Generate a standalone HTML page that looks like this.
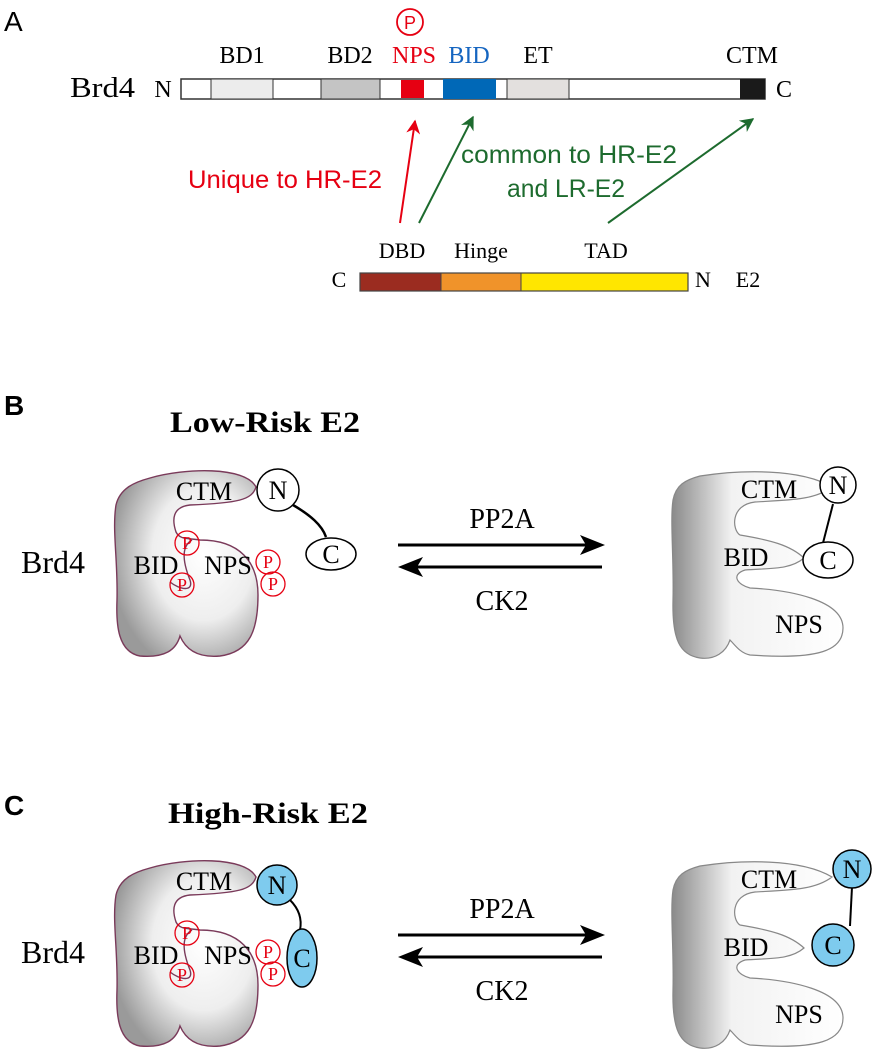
<!DOCTYPE html>
<html><head><meta charset="utf-8"><style>html,body{margin:0;padding:0;background:#fff}svg{display:block}</style></head>
<body>
<svg width="880" height="1050" viewBox="0 0 880 1050" xmlns="http://www.w3.org/2000/svg">
<defs>
<radialGradient id="gl" cx="0.62" cy="0.45" r="0.65">
<stop offset="0" stop-color="#ffffff"/><stop offset="0.55" stop-color="#eeeeee"/><stop offset="1" stop-color="#9a9a9a"/>
</radialGradient>
<linearGradient id="gr" x1="0" y1="0" x2="1" y2="0">
<stop offset="0" stop-color="#8a8a8a"/><stop offset="0.35" stop-color="#f2f2f2"/><stop offset="1" stop-color="#fff"/>
</linearGradient>
<marker id="ar" viewBox="0 0 10 10" refX="9" refY="5" markerWidth="7" markerHeight="7" orient="auto-start-reverse"><path d="M0,0 L10,5 L0,10 L3,5 Z" fill="#e60012"/></marker>
<marker id="ag" viewBox="0 0 10 10" refX="9" refY="5" markerWidth="7" markerHeight="7" orient="auto-start-reverse"><path d="M0,0 L10,5 L0,10 L3,5 Z" fill="#1d6b2e"/></marker>
<g id="lshape">
<path d="M150,478 C185,468 245,466 256,487 C252,500 238,503 190,505 C172,507 172,520 176,532 C180,540 188,538 200,540 C240,540 258,562 258,595 C258,630 250,652 220,656 C198,658 186,650 180,636 C176,650 165,658 140,656 C118,652 116,625 117,600 C118,560 112,530 116,505 C120,488 135,482 150,478 Z" fill="url(#gl)" stroke="#7a3a5a" stroke-width="1.4"/>
<path d="M192,540 C178,548 186,570 190,580 C194,592 180,590 170,582" fill="none" stroke="#7a3a5a" stroke-width="1.4"/>
<text x="204" y="500" font-family="Liberation Serif,serif" font-size="26" text-anchor="middle">CTM</text>
<text x="156" y="574" font-family="Liberation Serif,serif" font-size="26" text-anchor="middle">BID</text>
<text x="228" y="574" font-family="Liberation Serif,serif" font-size="26" text-anchor="middle">NPS</text>
<g fill="none" stroke="#e60012" stroke-width="1.3"><circle cx="187" cy="543" r="12"/><circle cx="182" cy="585" r="12"/></g>
<g font-family="Liberation Serif,serif" font-size="18" fill="#e60012" text-anchor="middle"><text x="187" y="549">P</text><text x="182" y="591">P</text></g>
</g>
<g id="rshape">
<path d="M700,476 C740,470 800,468 832,487 C815,500 790,500 755,502 C730,505 732,530 740,535 C770,540 790,545 804,558 C790,570 770,568 745,570 C730,575 738,585 750,588 C790,590 843,600 843,628 C843,650 820,660 750,655 C740,653 735,645 730,640 C726,652 715,660 700,658 C680,655 672,640 673,600 C674,560 670,520 673,500 C676,485 685,480 700,476 Z" fill="url(#gr)" stroke="#888" stroke-width="1.2"/>
<text x="769" y="498" font-family="Liberation Serif,serif" font-size="26" text-anchor="middle">CTM</text>
<text x="746" y="566" font-family="Liberation Serif,serif" font-size="26" text-anchor="middle">BID</text>
<text x="799" y="633" font-family="Liberation Serif,serif" font-size="26" text-anchor="middle">NPS</text>
</g>
<g id="arrows">
<line x1="398" y1="545" x2="590" y2="545" stroke="#000" stroke-width="3"/>
<path d="M605,545 L580,535 L586,545 L580,555 Z" fill="#000"/>
<line x1="413" y1="567" x2="602" y2="567" stroke="#000" stroke-width="3"/>
<path d="M398,567 L423,557 L417,567 L423,577 Z" fill="#000"/>
<text x="502" y="528" font-family="Liberation Serif,serif" font-size="28" text-anchor="middle">PP2A</text>
<text x="502" y="610" font-family="Liberation Serif,serif" font-size="28" text-anchor="middle">CK2</text>
<text x="53" y="573" font-family="Liberation Serif,serif" font-size="32" text-anchor="middle">Brd4</text>
</g>
</defs>

<!-- Panel A -->
<text x="4" y="31" font-family="Liberation Sans,sans-serif" font-size="28">A</text>
<circle cx="410" cy="22" r="13" fill="none" stroke="#e60012" stroke-width="1.8"/>
<text x="410" y="29" font-family="Liberation Sans,sans-serif" font-size="18" fill="#e60012" text-anchor="middle">P</text>
<g font-family="Liberation Serif,serif" font-size="24" text-anchor="middle">
<text x="242" y="63">BD1</text><text x="350" y="63">BD2</text>
<text x="414" y="63" fill="#e60012">NPS</text><text x="469" y="63" fill="#1565c0">BID</text>
<text x="538" y="63">ET</text><text x="752" y="63">CTM</text>
<text x="163" y="97">N</text><text x="784" y="97">C</text>
</g>
<text x="70" y="97" font-family="Liberation Serif,serif" font-size="29" textLength="65" lengthAdjust="spacingAndGlyphs">Brd4</text>
<rect x="181" y="79" width="584" height="20" fill="#fff" stroke="#333" stroke-width="1.5"/>
<rect x="211" y="79" width="62" height="20" fill="#ececec" stroke="#333" stroke-width="1"/>
<rect x="321" y="79" width="59" height="20" fill="#c4c4c4" stroke="#333" stroke-width="1"/>
<rect x="401" y="80" width="23" height="18" fill="#e60012"/>
<rect x="443" y="79" width="53" height="20" fill="#0068b7"/>
<rect x="507" y="79" width="62" height="20" fill="#e3e0de" stroke="#333" stroke-width="1"/>
<rect x="740" y="79" width="25" height="20" fill="#1a1a1a"/>
<line x1="400" y1="223" x2="415" y2="121" stroke="#e60012" stroke-width="2" marker-end="url(#ar)"/>
<line x1="419" y1="223" x2="473" y2="117" stroke="#1d6b2e" stroke-width="2" marker-end="url(#ag)"/>
<line x1="608" y1="223" x2="753" y2="119" stroke="#1d6b2e" stroke-width="2" marker-end="url(#ag)"/>
<text x="188" y="188" font-family="Liberation Sans,sans-serif" font-size="25" fill="#e60012" textLength="194" lengthAdjust="spacingAndGlyphs">Unique to HR-E2</text>
<text x="461" y="163" font-family="Liberation Sans,sans-serif" font-size="25" fill="#1d6b2e" textLength="216" lengthAdjust="spacingAndGlyphs">common to HR-E2</text>
<text x="507" y="197" font-family="Liberation Sans,sans-serif" font-size="25" fill="#1d6b2e" textLength="118" lengthAdjust="spacingAndGlyphs">and LR-E2</text>
<g font-family="Liberation Serif,serif" font-size="22" text-anchor="middle">
<text x="402" y="258">DBD</text><text x="481" y="258">Hinge</text><text x="606" y="258">TAD</text>
<text x="339" y="287">C</text><text x="703" y="287">N</text><text x="748" y="287">E2</text>
</g>
<rect x="360" y="273" width="81" height="18" fill="#9b2c20"/>
<rect x="441" y="273" width="80" height="18" fill="#f0932a"/>
<rect x="521" y="273" width="167" height="18" fill="#ffe600"/>
<rect x="360" y="273" width="328" height="18" fill="none" stroke="#444" stroke-width="1.2"/>
<line x1="441" y1="273" x2="441" y2="291" stroke="#444"/><line x1="521" y1="273" x2="521" y2="291" stroke="#444"/>

<!-- Panel B -->
<text x="4" y="415" font-family="Liberation Sans,sans-serif" font-size="28" font-weight="bold">B</text>
<text x="170" y="432" font-family="Liberation Serif,serif" font-size="30" font-weight="bold" textLength="190" lengthAdjust="spacingAndGlyphs">Low-Risk E2</text>
<use href="#lshape"/><use href="#rshape"/><use href="#arrows"/>
<path d="M293,505 C310,515 322,525 326,537" fill="none" stroke="#000" stroke-width="2.5"/>
<circle cx="278" cy="490" r="21" fill="#fff" stroke="#000" stroke-width="1.5"/>
<text x="278" y="499" font-family="Liberation Serif,serif" font-size="26" text-anchor="middle">N</text>
<ellipse cx="331" cy="554" rx="25" ry="16" fill="#fff" stroke="#000" stroke-width="1.5"/>
<text x="331" y="563" font-family="Liberation Serif,serif" font-size="26" text-anchor="middle">C</text>
<g fill="none" stroke="#e60012" stroke-width="1.3"><circle cx="268" cy="562" r="12"/><circle cx="273" cy="584" r="12"/></g>
<g font-family="Liberation Serif,serif" font-size="18" fill="#e60012" text-anchor="middle"><text x="268" y="568">P</text><text x="273" y="590">P</text></g>
<line x1="833" y1="504" x2="823" y2="543" stroke="#000" stroke-width="2"/>
<circle cx="838" cy="485" r="18" fill="#fff" stroke="#000" stroke-width="1.5"/>
<text x="838" y="494" font-family="Liberation Serif,serif" font-size="26" text-anchor="middle">N</text>
<ellipse cx="828" cy="560" rx="25" ry="18" fill="#fff" stroke="#000" stroke-width="1.5"/>
<text x="828" y="569" font-family="Liberation Serif,serif" font-size="26" text-anchor="middle">C</text>

<!-- Panel C -->
<text x="4" y="815" font-family="Liberation Sans,sans-serif" font-size="28" font-weight="bold">C</text>
<text x="168" y="823" font-family="Liberation Serif,serif" font-size="30" font-weight="bold" textLength="200" lengthAdjust="spacingAndGlyphs">High-Risk E2</text>
<g transform="translate(0,390)">
<use href="#lshape"/><use href="#rshape"/><use href="#arrows"/>
<path d="M290,510 C300,520 302,530 300,540" fill="none" stroke="#000" stroke-width="2"/>
<ellipse cx="277" cy="495" rx="20" ry="20" fill="#7ecbee" stroke="#000" stroke-width="1.5"/>
<text x="277" y="504" font-family="Liberation Serif,serif" font-size="26" text-anchor="middle">N</text>
<ellipse cx="302" cy="568" rx="15" ry="29" fill="#7ecbee" stroke="#000" stroke-width="1.5"/>
<text x="302" y="577" font-family="Liberation Serif,serif" font-size="26" text-anchor="middle">C</text>
<g fill="none" stroke="#e60012" stroke-width="1.3"><circle cx="268" cy="562" r="12"/><circle cx="273" cy="584" r="12"/></g>
<g font-family="Liberation Serif,serif" font-size="18" fill="#e60012" text-anchor="middle"><text x="268" y="568">P</text><text x="273" y="590">P</text></g>
<line x1="852" y1="497" x2="850" y2="536" stroke="#000" stroke-width="2"/>
<circle cx="852" cy="479" r="19" fill="#7ecbee" stroke="#000" stroke-width="1.5"/>
<text x="852" y="488" font-family="Liberation Serif,serif" font-size="26" text-anchor="middle">N</text>
<circle cx="833" cy="555" r="21" fill="#7ecbee" stroke="#000" stroke-width="1.5"/>
<text x="833" y="564" font-family="Liberation Serif,serif" font-size="26" text-anchor="middle">C</text>
</g>
</svg>
</body></html>
